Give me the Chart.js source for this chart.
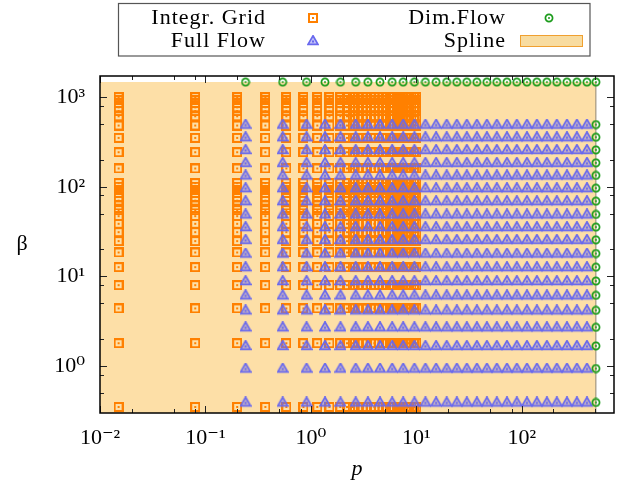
<!DOCTYPE html>
<html>
<head>
<meta charset="utf-8">
<script src="https://cdn.jsdelivr.net/npm/chart.js@4"></script>
<style>
  html, body { margin: 0; padding: 0; background: #fff; }
  #wrap { width: 629px; height: 484px; position: relative; }
</style>
</head>
<body>
<div id="wrap"><canvas id="chart"></canvas></div>
<script>
// p of the flow columns (Full Flow, and the Dim.Flow top row)
const flowP = [0.24, 0.54, 0.91, 1.36, 1.91, 2.66, 3.47, 4.52, 5.9, 7.5, 9.6,
  12.2, 15.4, 19.4, 24.2, 30.1, 37.5, 46.7, 58, 72.3, 89.8, 112, 139, 173, 215, 268, 333, 415];
// beta of the flow rows
const flowBeta = [0.393, 0.94, 1.68, 2.71, 4.19, 6.16, 8.89, 12.7, 18.0, 25.6, 35.5,
  49.2, 69.1, 96.5, 134, 185, 258, 357, 494];
// Dim.Flow sits on the edge of the region
const dimEdgeP = 505;
const dimTopBeta = 1470;

// integration grid
const gridP = [0.015, 0.08, 0.2, 0.37, 0.585, 0.85, 1.15, 1.5, 1.9, 2.2, 2.5, 2.8, 3.1,
  3.4, 3.7, 4, 4.4, 4.8, 5.2, 5.6, 6, 6.5, 7, 7.5, 8, 8.5, 9, 9.5, 10];
const gridBeta = [0.35, 1.8, 4.4, 8, 12.7, 18.5, 24.8, 31.2, 38.7, 47,
  55, 62, 70, 77, 85, 92, 100, 110,
  160, 243, 351, 482, 611, 700, 770, 850, 920, 1000];

// spline region corners
const splineP = [0.01, 505];
const splineBeta = [0.3, 1470];

// axes
const xTicks = [0.01, 0.1, 1, 10, 100];
const yTicks = [1, 10, 100, 1000];
const minorSteps = [2, 5, 8];

const SERIF = "'Liberation Serif', 'DejaVu Serif', serif";
const ORANGE = '#ff8000';
const BLUE = '#6868ee';
const GREEN = '#1c9c1c';
const SPLINE_FILL = '#fddfa7';

const SUP = { '-': '\u207b', '0': '\u2070', '1': '\u00b9', '2': '\u00b2', '3': '\u00b3' };
function powLabel(v) {
  const e = String(Math.round(Math.log10(v)));
  return '10' + e.split('').map(c => SUP[c]).join('');
}

function marker(w, h, draw) {
  const c = document.createElement('canvas');
  c.width = w; c.height = h;
  draw(c.getContext('2d'));
  return c;
}
const squareMark = marker(10, 10, ctx => {
  ctx.fillStyle = ORANGE; ctx.fillRect(0, 0, 10, 10);
  ctx.clearRect(2, 2, 6, 6);
  ctx.fillStyle = ORANGE; ctx.fillRect(4, 4, 2, 2);
});
const triMark = marker(12, 12, ctx => {
  ctx.beginPath();
  ctx.moveTo(6, 0.8); ctx.lineTo(11, 9.4); ctx.lineTo(1, 9.4); ctx.closePath();
  ctx.fillStyle = 'rgba(104,104,238,0.4)'; ctx.fill();
  ctx.strokeStyle = BLUE; ctx.lineWidth = 1.7; ctx.stroke();
  ctx.fillStyle = BLUE; ctx.fillRect(5, 5.5, 2, 2);
});
const circMark = marker(10, 10, ctx => {
  ctx.beginPath(); ctx.arc(5, 5, 3.6, 0, 2 * Math.PI);
  ctx.strokeStyle = GREEN; ctx.lineWidth = 1.7; ctx.stroke();
  ctx.beginPath(); ctx.arc(5, 5, 1, 0, 2 * Math.PI);
  ctx.fillStyle = GREEN; ctx.fill();
});

const fullFlow = [];
flowP.forEach(p => flowBeta.forEach(b => fullFlow.push({ x: p, y: b })));
const dimFlow = flowP.concat([dimEdgeP]).map(p => ({ x: p, y: dimTopBeta }))
  .concat(flowBeta.map(b => ({ x: dimEdgeP, y: b })));
const integr = [];
gridP.forEach(p => gridBeta.forEach(b => integr.push({ x: p, y: b })));

// gnuplot-like frame with inward ticks on all four sides
const framePlugin = {
  id: 'frame',
  afterDatasetsDraw(chart) {
    const { ctx, chartArea: a, scales: { x, y } } = chart;
    ctx.save();
    ctx.strokeStyle = '#222';
    ctx.lineWidth = 1;
    const line = (x1, y1, x2, y2) => { ctx.beginPath(); ctx.moveTo(x1, y1); ctx.lineTo(x2, y2); ctx.stroke(); };
    xTicks.concat([1000]).forEach(d => {
      [1].concat(minorSteps).forEach(m => {
        const v = d * m;
        if (v < x.min || v > x.max) return;
        const px = Math.round(x.getPixelForValue(v)) + 0.5;
        const len = m === 1 ? 7 : 4;
        line(px, a.bottom, px, a.bottom - len);
        line(px, a.top, px, a.top + len);
      });
    });
    [0.1].concat(yTicks).forEach(d => {
      [1].concat(minorSteps).forEach(m => {
        const v = d * m;
        if (v < y.min || v > y.max) return;
        const py = Math.round(y.getPixelForValue(v)) + 0.5;
        const len = m === 1 ? 7 : 4;
        line(a.left, py, a.left + len, py);
        line(a.right, py, a.right - len, py);
      });
    });
    ctx.strokeStyle = '#000';
    ctx.lineWidth = 1.5;
    ctx.strokeRect(a.left, a.top, a.right - a.left, a.bottom - a.top);
    ctx.restore();
  },
  afterDraw(chart) {
    const { ctx, chartArea: a } = chart;
    const ds = chart.data.datasets;
    ctx.save();
    // y title, upright
    ctx.fillStyle = '#000';
    ctx.font = '22px ' + SERIF;
    ctx.textAlign = 'center';
    ctx.textBaseline = 'middle';
    ctx.fillText('\u03b2', 22, (a.top + a.bottom) / 2);

    // legend box
    ctx.strokeStyle = '#555';
    ctx.lineWidth = 1.2;
    ctx.strokeRect(118.5, 3.5, 471.5, 52.5);
    ctx.textAlign = 'right';
    ctx.textBaseline = 'alphabetic';
    ctx.letterSpacing = '1px';
    const slots = [
      { ds: ds[2], tx: 266, base: 24, mx: 313, my: 18, mark: squareMark },
      { ds: ds[1], tx: 266, base: 47, mx: 313, my: 41, mark: triMark },
      { ds: ds[0], tx: 506, base: 24, mx: 549, my: 18, mark: circMark },
      { ds: ds[4], tx: 506, base: 47, box: true }
    ];
    slots.forEach(s => {
      ctx.fillText(s.ds.label, s.tx, s.base);
      if (s.box) {
        ctx.fillStyle = '#f8dca0';
        ctx.fillRect(520, 35, 63, 12);
        ctx.strokeStyle = '#f0a030';
        ctx.lineWidth = 1;
        ctx.strokeRect(520.5, 35.5, 62, 11);
        ctx.fillStyle = '#000';
      } else {
        ctx.drawImage(s.mark, s.mx - s.mark.width / 2, s.my - s.mark.height / 2);
      }
    });
    ctx.restore();
  }
};

new Chart(document.getElementById('chart'), {
  type: 'scatter',
  data: {
    datasets: [
      { label: 'Dim.Flow', data: dimFlow, pointStyle: circMark, pointRadius: 4 },
      { label: 'Full Flow', data: fullFlow, pointStyle: triMark, pointRadius: 4 },
      { label: 'Integr. Grid', data: integr, pointStyle: squareMark, pointRadius: 4 },
      {
        label: 'edge', type: 'line',
        data: [{ x: splineP[1], y: splineBeta[0] }, { x: splineP[1], y: splineBeta[1] }],
        borderColor: '#8f8672', borderWidth: 1, pointRadius: 0, fill: false
      },
      {
        label: 'Spline', type: 'line',
        data: [{ x: splineP[0], y: splineBeta[1] }, { x: splineP[1], y: splineBeta[1] }],
        backgroundColor: SPLINE_FILL, borderWidth: 0, pointRadius: 0, fill: 'start'
      }
    ]
  },
  options: {
    responsive: true,
    maintainAspectRatio: false,
    animation: false,
    events: [],
    layout: { padding: { top: 76, right: 15, left: 0, bottom: 0 } },
    plugins: { legend: { display: false }, tooltip: { enabled: false } },
    scales: {
      x: {
        type: 'logarithmic', min: 0.01, max: 750, position: 'bottom',
        afterBuildTicks: s => { s.ticks = xTicks.map(v => ({ value: v })); },
        afterFit: s => { s.height = 71; },
        grid: { display: false, drawTicks: false },
        border: { display: false },
        ticks: {
          callback: v => powLabel(v), autoSkip: false, maxRotation: 0,
          font: { family: SERIF, size: 22 }, color: '#000', padding: 12
        },
        title: {
          display: true, text: 'p', color: '#000',
          font: { family: SERIF, size: 22, style: 'italic' },
          padding: { top: 0, bottom: 2 }
        }
      },
      y: {
        type: 'logarithmic', min: 0.3, max: 1720,
        afterBuildTicks: s => { s.ticks = yTicks.map(v => ({ value: v })); },
        afterFit: s => { s.width = 100; },
        grid: { display: false, drawTicks: false },
        border: { display: false },
        ticks: {
          callback: v => powLabel(v), autoSkip: false,
          font: { family: SERIF, size: 22 }, color: '#000', padding: 15
        }
      }
    }
  },
  plugins: [framePlugin]
});
</script>
</body>
</html>
